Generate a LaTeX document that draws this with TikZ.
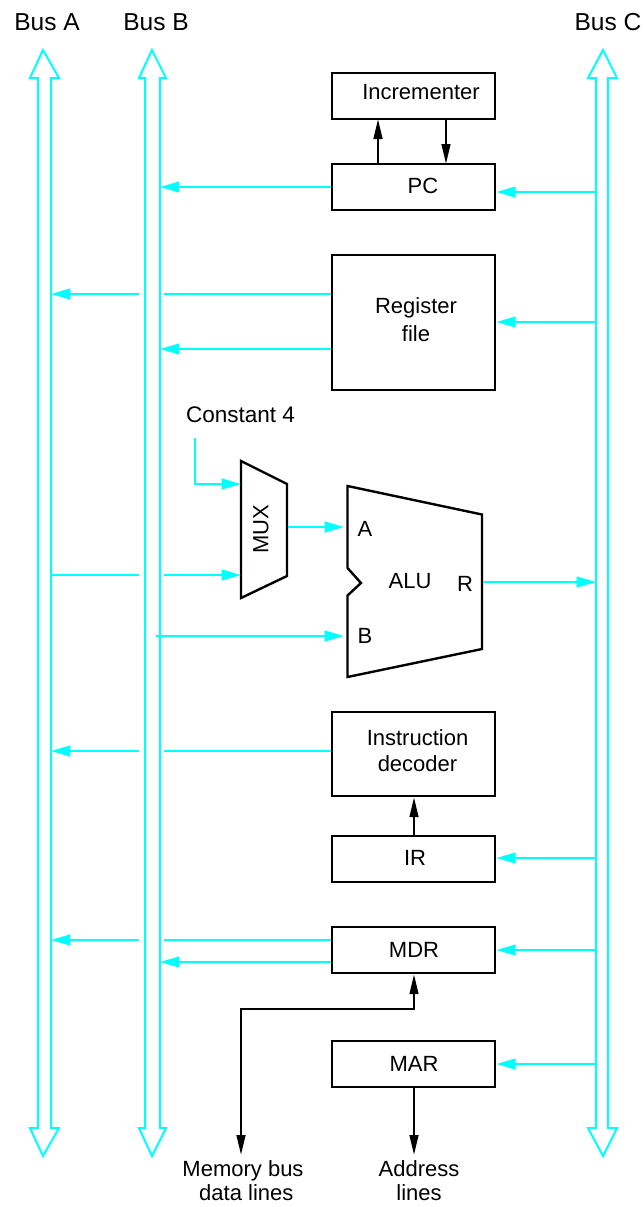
\documentclass[tikz,border=0pt]{standalone}
\usepackage{fontspec}
\setmainfont{Liberation Sans}
\usetikzlibrary{arrows.meta,calc}

\definecolor{buscyan}{RGB}{0,255,255}

\tikzset{
  regbox/.style={draw=black,line width=1.8pt,minimum width=122.5pt,inner sep=0pt},
  lbl/.style={inner sep=0pt,align=center,font=\fontsize{16.5}{18}\selectfont},
  buslbl/.style={inner sep=0pt,font=\fontsize{18.4}{20}\selectfont},
  buswire/.style={draw=buscyan,line width=1.5pt,miter limit=10},
  feed/.style={buscyan,line width=1.7pt,-{Triangle[length=14.5pt,width=8pt]}},
  feednotip/.style={buscyan,line width=1.7pt},
  ctrl/.style={black,line width=1.8pt,-{Triangle[length=15pt,width=6.5pt]}},
  unitblock/.style={draw=black,line width=1.8pt,line join=miter},
}

\begin{document}
\begin{tikzpicture}[x=0.75pt,y=-0.75pt]
  \useasboundingbox (0,0) rectangle (643,1207);

  % the three buses
  \foreach \busname/\xc/\xl/\xr/\hl/\hr in {busA/43/38/51/30/59,busB/152/145/160/139/166,busC/603/596/608/588/617}{
    \coordinate (\busname W) at (\xl,600);
    \coordinate (\busname E) at (\xr,600);
    \draw[buswire] (\xc,50) -- (\hr,78) -- (\xr,78) -- (\xr,1128) -- (\hr,1128) -- (\xc,1156)
      -- (\hl,1128) -- (\xl,1128) -- (\xl,78) -- (\hl,78) -- cycle;
  }
  \node[buslbl] (labA) at (47,22.5) {Bus A};
  \node[buslbl] (labB) at (156,22.5) {Bus B};
  \node[buslbl] (labC) at (608,22.5) {Bus C};

  % registers and blocks
  \node[regbox,minimum height=34.5pt] (inc) at (413.5,96) {};
  \node[regbox,minimum height=34.5pt] (pc) at (413.5,187) {};
  \node[regbox,minimum height=101pt] (regfile) at (413.5,322.5) {};
  \node[regbox,minimum height=63pt] (decoder) at (413.5,754) {};
  \node[regbox,minimum height=34.5pt] (ir) at (413.5,859) {};
  \node[regbox,minimum height=34.5pt] (mdr) at (413.5,950) {};
  \node[regbox,minimum height=34.5pt] (mar) at (413.5,1064) {};

  \node[lbl] (inctext) at (421,92) {Incrementer};
  \node[lbl] (pctext) at (423,186) {PC};
  \node[lbl] (regtext) at (416,320) {Register\\[3pt]file};
  \node[lbl] (dectext) at (417.5,751) {Instruction\\[1.5pt]decoder};
  \node[lbl] (irtext) at (415,858) {IR};
  \node[lbl] (mdrtext) at (414,950) {MDR};
  \node[lbl] (martext) at (414,1064) {MAR};

  % mux and alu
  \draw[unitblock] (241,461) coordinate (muxtl) -- (287,484) -- (287,576) coordinate (muxbr) -- (241,598) -- cycle;
  \coordinate (muxout) at (288,530);
  \node[lbl,rotate=90] (muxtext) at (261,529.5) {MUX};
  \draw[unitblock] (347.5,486) -- (482,514.5) coordinate (alutr) -- (482,649) -- (347.5,677) -- (347.5,595.5)
    -- (361,583) -- (347.5,568) -- cycle;
  \coordinate (aluin) at (344,600);
  \coordinate (aluout) at (483,600);
  \node[lbl] (alua) at (365,529) {A};
  \node[lbl] (alub) at (365,636) {B};
  \node[lbl] (alutext) at (410,581) {ALU};
  \node[lbl] (alur) at (465,584) {R};
  \node[lbl,font=\fontsize{16.9}{18}\selectfont] (const) at (240.5,415) {Constant 4};
  \coordinate (conststart) at (195,438);

  % bus connections
  \draw[feed] (pc.west |- 0,187) -- (busBE |- 0,187);
  \draw[feed] (busCW |- 0,192) -- (pc.east |- 0,192);
  \draw[feednotip] (regfile.west |- 0,294) -- (163.5,294);
  \draw[feed] (139,294) -- (busAE |- 0,294);
  \draw[feed] (regfile.west |- 0,349) -- (busBE |- 0,349);
  \draw[feed] (busCW |- 0,322) -- (regfile.east |- 0,322);
  \draw[feed] (conststart) |- (muxtl |- 0,484);
  \draw[feednotip] (busAE |- 0,575) -- (139,575);
  \draw[feed] (163.5,575) -- (muxtl |- 0,575);
  \draw[feed] (muxout |- 0,527) -- (aluin |- 0,527);
  \draw[feed] (156,636) -- (aluin |- 0,636);
  \draw[feed] (aluout |- 0,582) -- (busCW |- 0,582);
  \draw[feednotip] (decoder.west |- 0,751) -- (163.5,751);
  \draw[feed] (139,751) -- (busAE |- 0,751);
  \draw[feed] (busCW |- 0,858) -- (ir.east |- 0,858);
  \draw[feednotip] (mdr.west |- 0,940) -- (163.5,940);
  \draw[feed] (139,940) -- (busAE |- 0,940);
  \draw[feed] (mdr.west |- 0,962) -- (busBE |- 0,962);
  \draw[feed] (busCW |- 0,950) -- (mdr.east |- 0,950);
  \draw[feed] (busCW |- 0,1064) -- (mar.east |- 0,1064);

  % control lines
  \draw[ctrl] (378,164) -- (378,119);
  \draw[ctrl] (446,119) -- (446,164);
  \draw[ctrl] (ir.north -| 414,0) -- (decoder.south -| 414,0);
  \draw[ctrl] (mar.south -| 414,0) -- (414,1155);
  \draw[ctrl,{Triangle[length=15pt,width=6.5pt]}-{Triangle[length=15pt,width=6.5pt]}] (mdr.south -| 414,0) |- (241,1009) -- (241,1155);

  \node[lbl] (memtext) at (243,1181) {Memory bus\\[0pt]\hspace*{5pt}data lines};
  \node[lbl] (addrtext) at (419,1181) {Address\\[0pt]lines};
\end{tikzpicture}
\end{document}
